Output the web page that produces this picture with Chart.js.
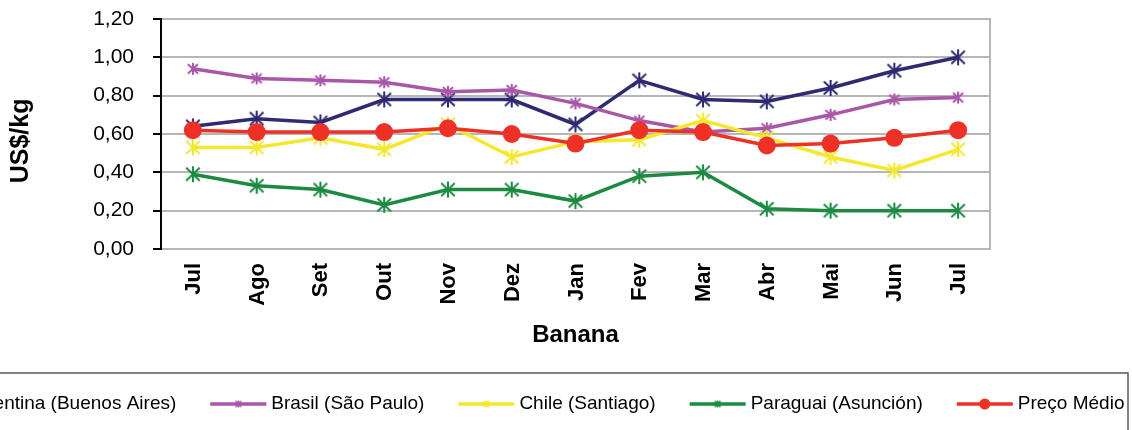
<!DOCTYPE html>
<html>
<head>
<meta charset="utf-8">
<script src="https://cdn.jsdelivr.net/npm/chart.js@4.4.1/dist/chart.umd.min.js"></script>
<style>
  html, body { margin: 0; padding: 0; background: #fff; }
  #grafico { display: block; }
</style>
</head>
<body>
<canvas id="grafico" width="1132" height="430"></canvas>
<script>
// meses (categorias)
const meses = ['Jul', 'Ago', 'Set', 'Out', 'Nov', 'Dez', 'Jan', 'Fev', 'Mar', 'Abr', 'Mai', 'Jun', 'Jul'];

// preços em US$/kg
const argentina = [0.64, 0.68, 0.66, 0.78, 0.78, 0.78, 0.65, 0.88, 0.78, 0.77, 0.84, 0.93, 1.00];
const brasil    = [0.94, 0.89, 0.88, 0.87, 0.82, 0.83, 0.76, 0.67, 0.61, 0.63, 0.70, 0.78, 0.79];
const chile     = [0.53, 0.53, 0.58, 0.52, 0.65, 0.48, 0.56, 0.57, 0.67, 0.58, 0.48, 0.41, 0.52];
const paraguai  = [0.39, 0.33, 0.31, 0.23, 0.31, 0.31, 0.25, 0.38, 0.40, 0.21, 0.20, 0.20, 0.20];
const precoMedio = [0.62, 0.61, 0.61, 0.61, 0.63, 0.60, 0.55, 0.62, 0.61, 0.54, 0.55, 0.58, 0.62];

// eixo y
const yMin = 0;
const yMax = 1.2;
const yPasso = 0.2;

const FONTE = '"Liberation Sans", Arial, sans-serif';
const CINZA = '#b4b6ba';

// marcador em forma de asterisco (como no Excel)
function fazerEstrela(cor, tam, esp) {
    const c = document.createElement('canvas');
    c.width = tam;
    c.height = tam;
    const g = c.getContext('2d');
    g.strokeStyle = cor;
    g.lineWidth = esp;
    const m = tam / 2, r = tam / 2 - 1;
    g.beginPath();
    g.moveTo(m, m - r); g.lineTo(m, m + r);
    g.moveTo(m - r * 0.85, m - r * 0.8); g.lineTo(m + r * 0.85, m + r * 0.8);
    g.moveTo(m + r * 0.85, m - r * 0.8); g.lineTo(m - r * 0.85, m + r * 0.8);
    g.stroke();
    return c;
}

function serie(nome, dados, cor, tamEstrela, ordem) {
    return {
        label: nome,
        data: dados,
        borderColor: cor,
        backgroundColor: cor,
        borderWidth: 3.5,
        tension: 0,
        order: ordem,
        pointStyle: tamEstrela ? fazerEstrela(cor, tamEstrela, 2) : 'circle',
        pointRadius: tamEstrela ? 8 : 9,
        pointBackgroundColor: cor,
        pointBorderColor: cor,
        pointBorderWidth: 0,
        _miniEstrela: tamEstrela ? fazerEstrela(cor, 9, 1.6) : null
    };
}

// desenha rótulos, borda direita e legenda
const extras = {
    id: 'extras',
    beforeDatasetsDraw(chart) {
        const { ctx, chartArea } = chart;
        ctx.save();
        ctx.strokeStyle = CINZA;
        ctx.lineWidth = 2;
        ctx.beginPath();
        ctx.moveTo(chartArea.right, chartArea.top - 1);
        ctx.lineTo(chartArea.right, chartArea.bottom + 1);
        ctx.stroke();
        ctx.restore();
    },
    afterDraw(chart) {
        const { ctx } = chart;
        const ey = chart.scales.y;
        const ex = chart.scales.x;
        ctx.save();
        ctx.fillStyle = '#000';

        // rótulos do eixo y
        ctx.font = '21px ' + FONTE;
        ctx.textAlign = 'right';
        ctx.textBaseline = 'middle';
        ey.ticks.forEach((t, i) => {
            ctx.fillText(t.label, 134, ey.getPixelForTick(i));
        });

        // rótulos do eixo x, verticais
        ctx.font = 'bold 22px ' + FONTE;
        ctx.textAlign = 'right';
        ex.ticks.forEach((t, i) => {
            ctx.save();
            ctx.translate(ex.getPixelForTick(i) + 1, ex.top + 14);
            ctx.rotate(-Math.PI / 2);
            ctx.fillText(meses[i], 0, 0);
            ctx.restore();
        });

        // legenda
        ctx.strokeStyle = '#5a5a5a';
        ctx.lineWidth = 1.5;
        ctx.strokeRect(-5, 373, 1133, 80);
        ctx.font = '19px ' + FONTE;
        ctx.textAlign = 'left';
        let lx = -97;
        const ly = 404;
        chart.data.datasets.forEach(ds => {
            ctx.strokeStyle = ds.borderColor;
            ctx.lineWidth = 3.5;
            ctx.beginPath();
            ctx.moveTo(lx, ly);
            ctx.lineTo(lx + 56, ly);
            ctx.stroke();
            if (ds._miniEstrela) {
                ctx.drawImage(ds._miniEstrela, lx + 28 - 4.5, ly - 4.5);
            } else {
                ctx.fillStyle = ds.borderColor;
                ctx.beginPath();
                ctx.arc(lx + 28, ly, 5.5, 0, Math.PI * 2);
                ctx.fill();
            }
            ctx.fillStyle = '#000';
            ctx.fillText(ds.label, lx + 61, ly);
            lx += 61 + ctx.measureText(ds.label).width + 34;
        });
        ctx.restore();
    }
};

new Chart(document.getElementById('grafico'), {
    type: 'line',
    data: {
        labels: meses,
        datasets: [
            serie('Argentina (Buenos Aires)', argentina, '#2f2a72', 18, 5),
            serie('Brasil (São Paulo)', brasil, '#a957a9', 14, 4),
            serie('Chile (Santiago)', chile, '#f3e82e', 18, 3),
            serie('Paraguai (Asunción)', paraguai, '#1d8a42', 18, 2),
            serie('Preço Médio', precoMedio, '#ee3127', 0, 1)
        ]
    },
    options: {
        responsive: false,
        animation: false,
        layout: { padding: { top: 19, right: 142, left: 0, bottom: 0 } },
        plugins: {
            legend: { display: false },
            tooltip: { enabled: false }
        },
        scales: {
            x: {
                offset: true,
                grid: { display: false },
                border: { color: CINZA, width: 2 },
                ticks: { display: false },
                title: {
                    display: true,
                    text: 'Banana',
                    color: '#000',
                    font: { family: FONTE, size: 24, weight: 'bold' },
                    padding: { top: 0, bottom: 80 }
                },
                afterFit(s) { s.height = 181; }
            },
            y: {
                min: yMin,
                max: yMax,
                ticks: {
                    display: false,
                    stepSize: yPasso,
                    callback: v => v.toFixed(2).replace('.', ',')
                },
                grid: { color: CINZA, lineWidth: 2, tickColor: '#000', tickLength: 8 },
                border: { color: '#000', width: 2 },
                title: {
                    display: true,
                    text: 'US$/kg  ',
                    color: '#000',
                    font: { family: FONTE, size: 25, weight: 'bold' },
                    padding: { top: 6, bottom: 0 }
                },
                afterFit(s) { s.width = 161; }
            }
        }
    },
    plugins: [extras]
});
</script>
</body>
</html>
